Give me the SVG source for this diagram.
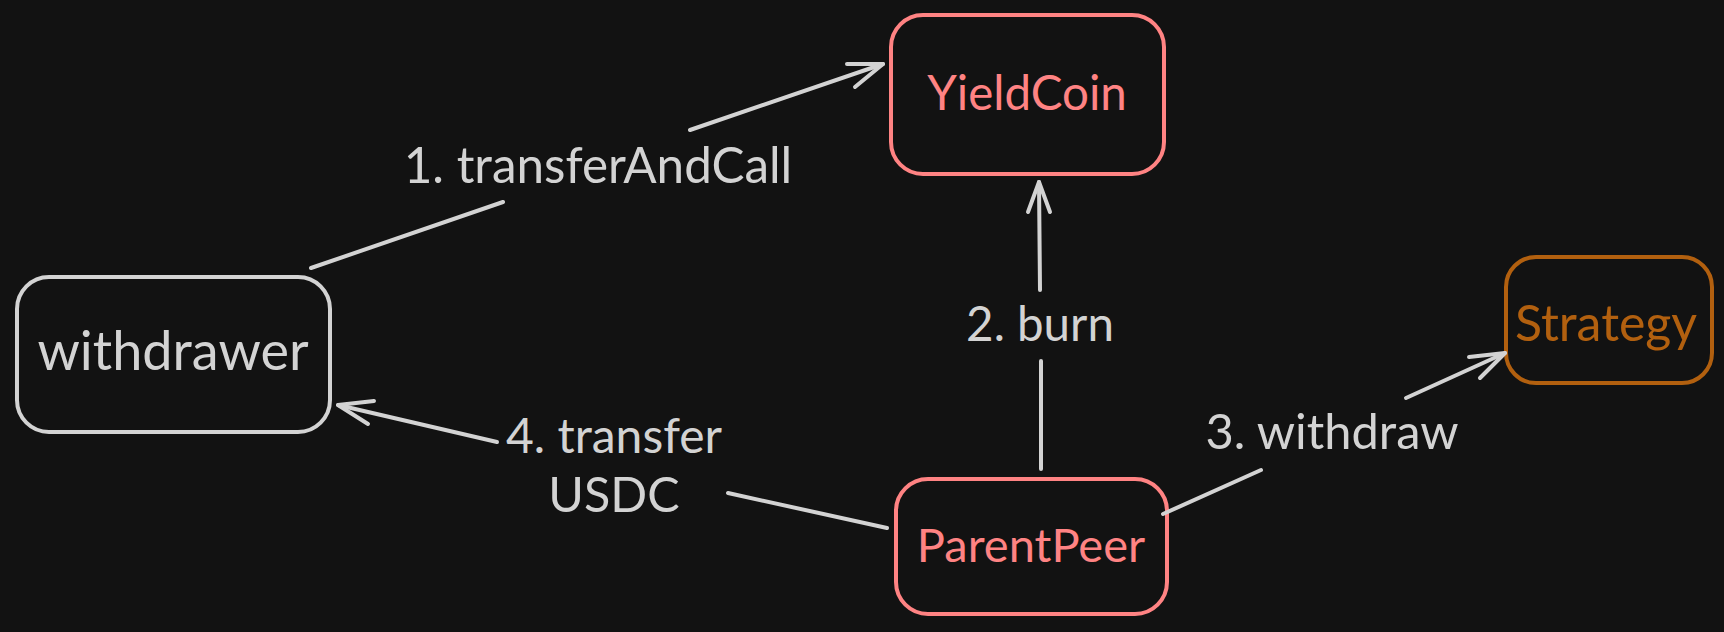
<svg xmlns="http://www.w3.org/2000/svg" width="1724" height="632" viewBox="0 0 1724 632">
  <defs>
    <style>
      .bg { fill: #121212; }
      .box { fill: none; stroke-width: 4; }
      .gray { stroke: #d3d3d3; }
      .red { stroke: #ff8383; }
      .orange { stroke: #b2600f; }
      text { font-family: "Lato", "Noto Sans", "Liberation Sans", sans-serif; font-size: 48px; text-anchor: middle; }
      .tgray { fill: #d3d3d3; }
      .tred { fill: #ff8383; }
      .torange { fill: #b2600f; }
      .conn line, .conn polyline { stroke: #d3d3d3; stroke-width: 4; stroke-linecap: round; stroke-linejoin: round; fill: none; }
    </style>
  </defs>
  <rect class="bg" x="0" y="0" width="1724" height="632"/>

  <g id="withdrawer">
    <rect class="box gray" x="17" y="277" width="313" height="155" rx="32"/>
    <text class="tgray" x="173" y="370" style="font-size:54px">withdrawer</text>
  </g>
  <g id="yieldcoin">
    <rect class="box red" x="891" y="15" width="273" height="159" rx="32"/>
    <text class="tred" x="1027" y="110" style="font-size:47.5px">YieldCoin</text>
  </g>
  <g id="strategy">
    <rect class="box orange" x="1506" y="257" width="206" height="126" rx="30"/>
    <text class="torange" x="1606" y="341" style="font-size:50px">Strategy</text>
  </g>
  <g id="parentpeer">
    <rect class="box red" x="896" y="479" width="271" height="135" rx="32"/>
    <text class="tred" x="1031" y="562" style="font-size:47px">ParentPeer</text>
  </g>

  <g id="connectors" class="conn">
    <line x1="311" y1="268" x2="503" y2="202"/>
    <line x1="690" y1="130" x2="883" y2="64"/>
    <polyline points="855,87 883,64 847,64"/>
    <text class="tgray" x="598" y="183" style="font-size:49.4px">1. transferAndCall</text>

    <line x1="1041" y1="469" x2="1041" y2="361"/>
    <line x1="1040" y1="290" x2="1039" y2="182"/>
    <polyline points="1028,212 1039,182 1050,212"/>
    <text class="tgray" x="1040" y="341" style="font-size:47.5px">2. burn</text>

    <line x1="1163" y1="514" x2="1261" y2="470"/>
    <line x1="1406" y1="398" x2="1505" y2="353"/>
    <polyline points="1480,378 1505,353 1469,357"/>
    <text class="tgray" x="1332" y="449" style="font-size:48.8px">3. withdraw</text>

    <line x1="887" y1="528" x2="728" y2="493"/>
    <line x1="497" y1="442" x2="338" y2="405"/>
    <polyline points="368,424 338,405 374,401"/>
    <text class="tgray" x="614" y="453">4. transfer</text>
    <text class="tgray" x="614" y="512" style="font-size:48.5px">USDC</text>
  </g>
</svg>
